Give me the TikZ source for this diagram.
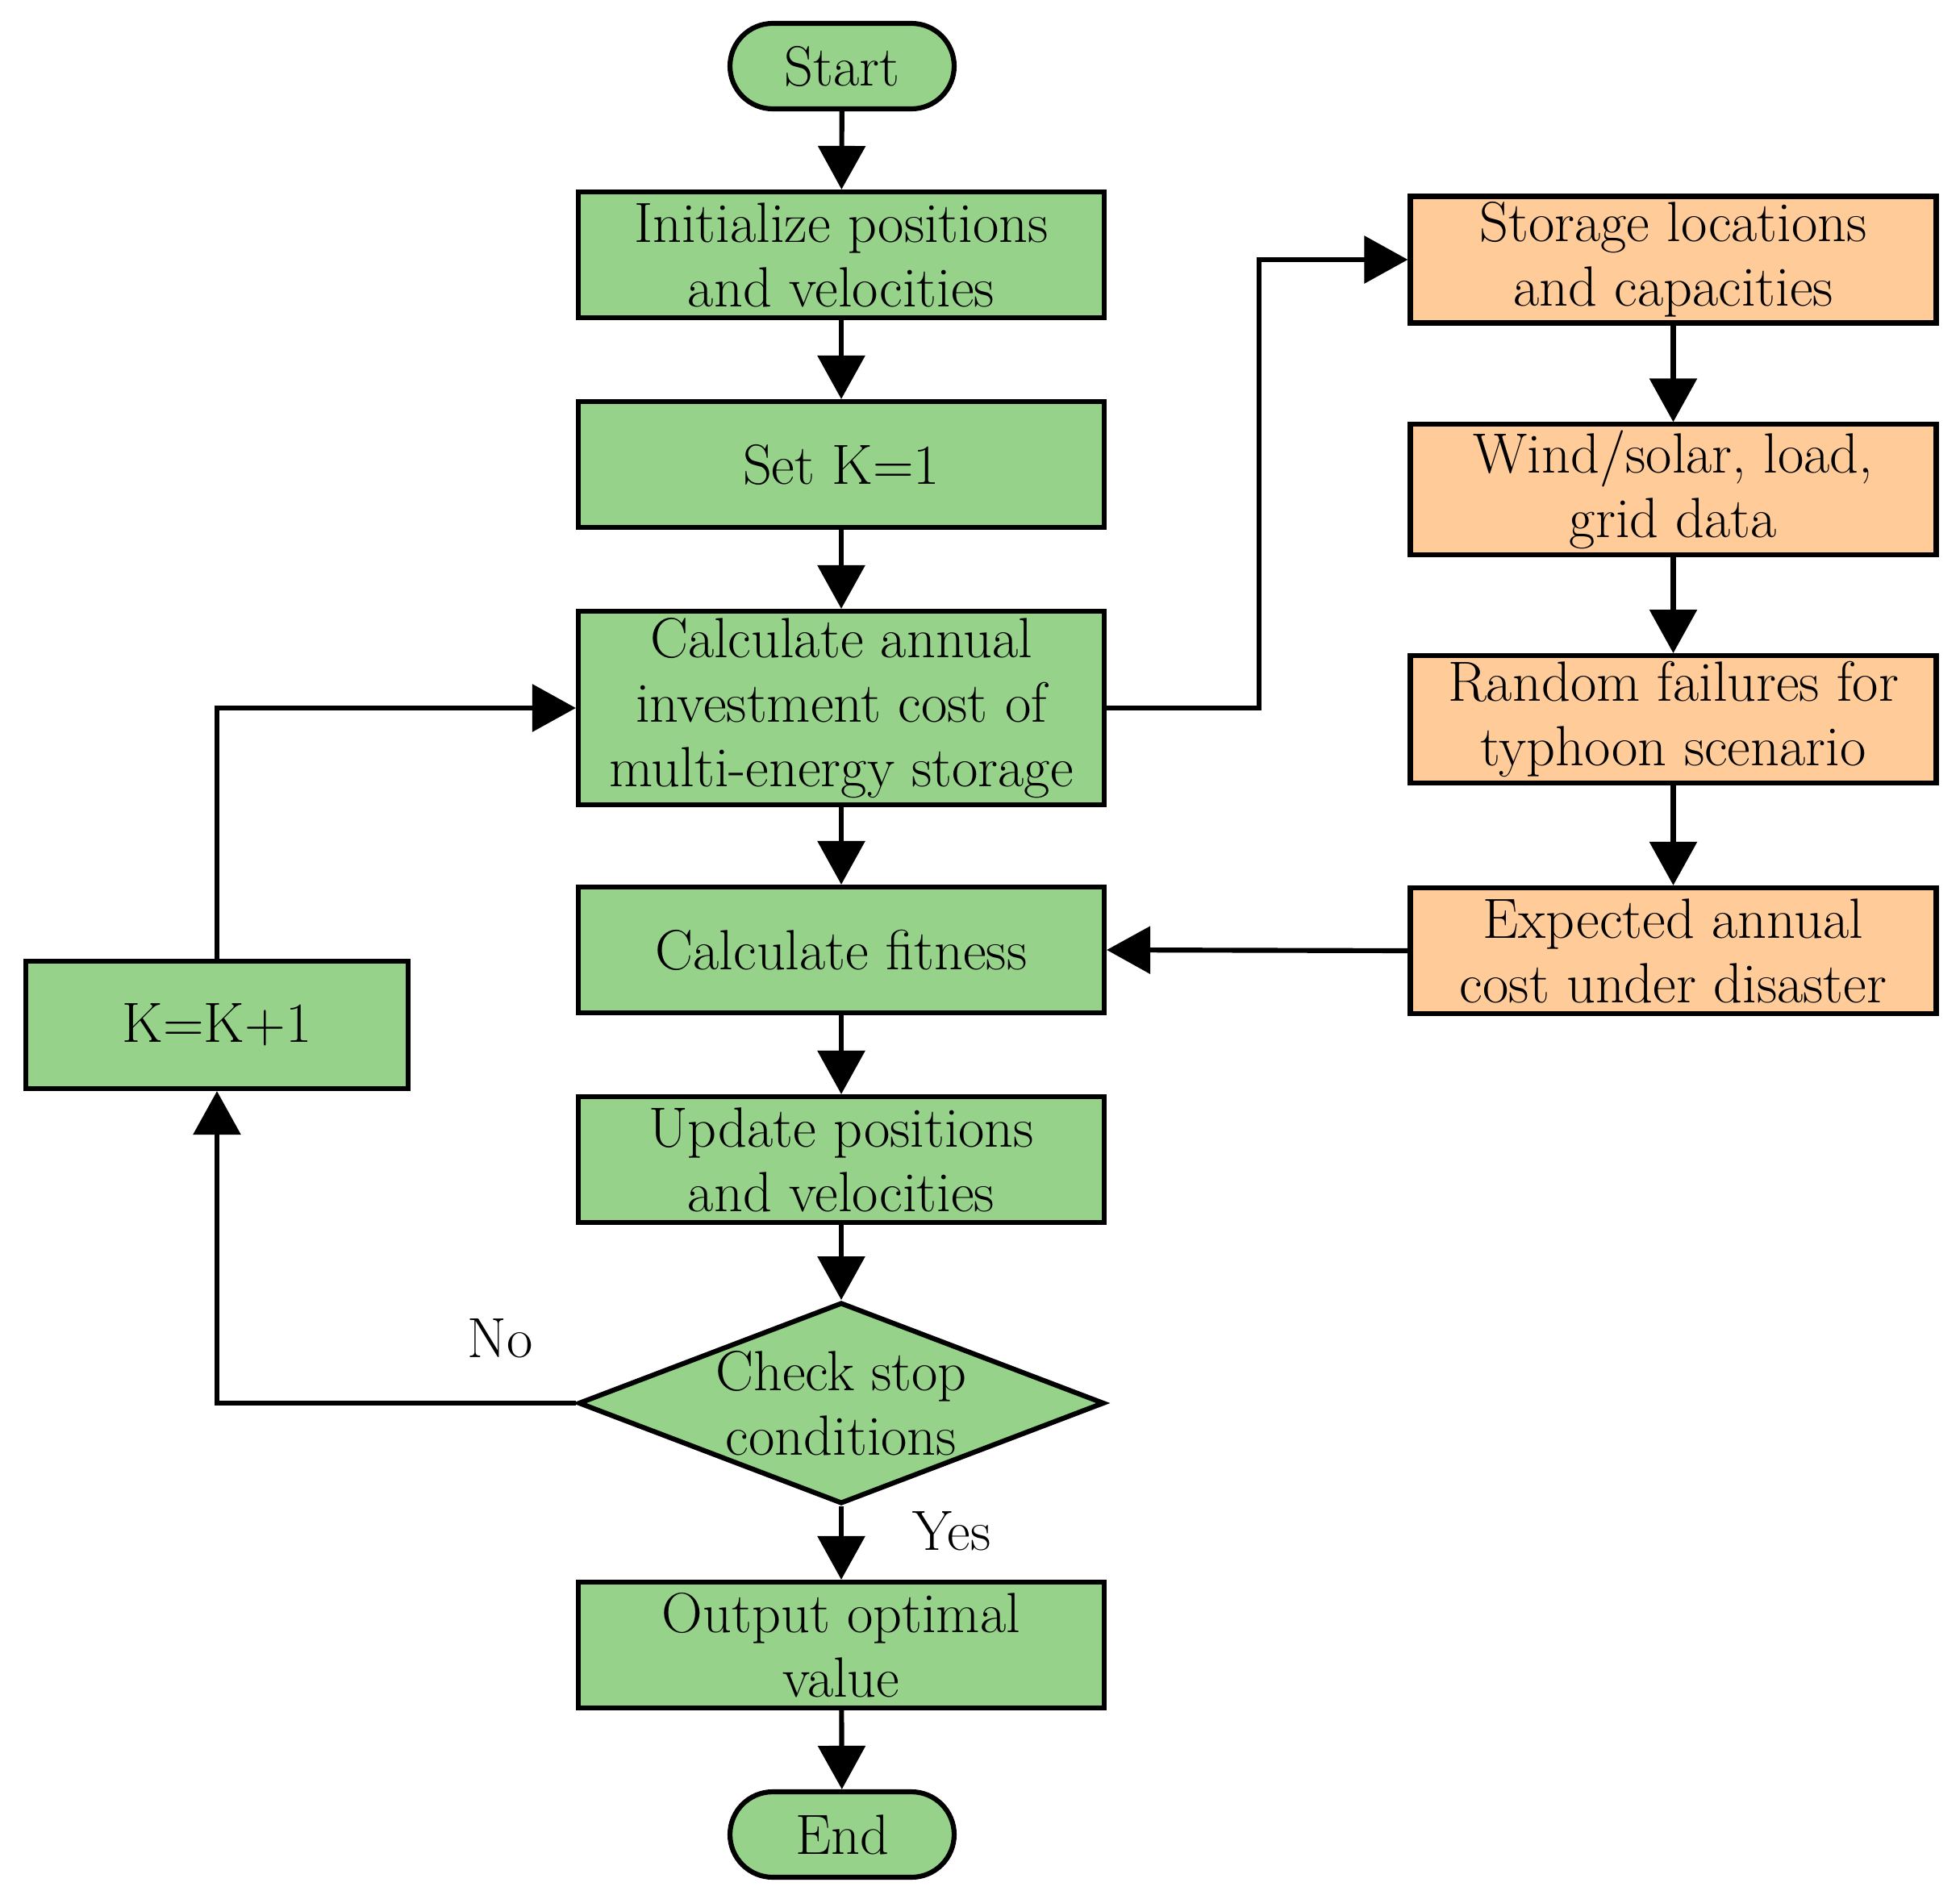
\documentclass[tikz,border=0pt]{standalone}
\usetikzlibrary{shapes.geometric,shapes.misc,arrows.meta}
\definecolor{gfill}{RGB}{150,210,138}
\definecolor{ofill}{RGB}{255,204,153}
\tikzset{
  txt/.style={font=\fontsize{20}{22.8}\selectfont},
  box/.style={draw, line width=1.75pt, fill=gfill, minimum width=6.52cm, minimum height=1.56cm, align=center, inner sep=2pt, txt},
  obox/.style={box, fill=ofill},
  term/.style={rounded rectangle, draw, line width=1.75pt, fill=gfill, minimum width=2.92cm, minimum height=1.06cm, inner sep=2pt, txt},
  dec/.style={diamond, draw, line width=1.75pt, fill=gfill, shape aspect=2.6, minimum width=6.52cm, minimum height=2.37cm, inner sep=0pt, align=center, txt},
  arr/.style={-{Triangle[length=0.54cm,width=0.58cm]}, line width=1.75pt},
  lbl/.style={txt}
}
\begin{document}
\begin{tikzpicture}
\useasboundingbox (0,0) rectangle (24.3,-23.5);
\node[term] (start) at (10.44,-0.82) {Start};
\node[box] (init) at (10.43,-3.16) {Initialize positions\\and velocities};
\node[box] (setk) at (10.43,-5.76) {Set K=1};
\node[box, minimum height=2.40cm] (calc) at (10.43,-8.78) {Calculate annual\\investment cost of\\multi-energy storage};
\node[box] (fit) at (10.43,-11.78) {Calculate fitness};
\node[box] (upd) at (10.43,-14.38) {Update positions\\and velocities};
\node[dec] (chk) at (10.43,-17.40) {Check stop\\conditions};
\node[box] (out) at (10.43,-20.40) {Output optimal\\value};
\node[term] (end) at (10.44,-22.75) {End};
\node[obox] (stor) at (20.745,-3.22) {Storage locations\\and capacities};
\node[obox] (wind) at (20.745,-6.07) {Wind/solar, load,\\grid data};
\node[obox] (rand) at (20.745,-8.92) {Random failures for\\typhoon scenario};
\node[obox] (exp) at (20.745,-11.79) {Expected annual\\cost under disaster};
\node[box, minimum width=4.74cm, minimum height=1.58cm] (kk) at (2.69,-12.71) {K=K+1};
\node[lbl] (no) at (6.2,-16.6) {No};
\node[lbl] (yes) at (11.8,-18.99) {Yes};
\coordinate (c1) at (15.61,-8.78);
\draw[arr] (start) -- (init);
\draw[arr] (init) -- (setk);
\draw[arr] (setk) -- (calc);
\draw[arr] (calc) -- (fit);
\draw[arr] (fit) -- (upd);
\draw[arr] (upd) -- (chk);
\draw[arr] (chk) -- (out);
\draw[arr] (out) -- (end);
\draw[arr] (calc.east) -- (c1) |- (stor.west);
\draw[arr] (stor) -- (wind);
\draw[arr] (wind) -- (rand);
\draw[arr] (rand) -- (exp);
\draw[arr] (exp.west) -- (fit.east);
\draw[arr] (chk.west) -| (kk.south);
\draw[arr] (kk.north) |- (calc.west);
\end{tikzpicture}
\end{document}
